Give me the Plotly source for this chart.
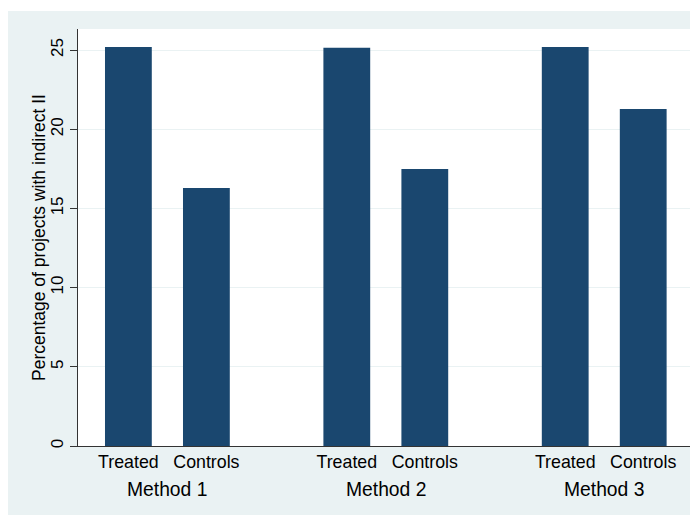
import plotly.graph_objects as go

# ---- data ----
methods = ["Method 1", "Method 2", "Method 3"]
groups = ["Treated", "Controls"]
treated = [25.19, 25.14, 25.19]
controls = [16.29, 17.49, 21.28]
y_ticks = [0, 5, 10, 15, 20, 25]

# ---- layout constants (page body has an 8px margin) ----
OFF = 8
W, H = 698 - OFF, 515 - OFF
PLOT_L, PLOT_R, PLOT_T, PLOT_B = 78, 694, 29, 446  # screen px
L, R, T, B = PLOT_L - OFF, 698 - PLOT_R, PLOT_T - OFF, 515 - PLOT_B
PW, PH = PLOT_R - PLOT_L, PLOT_B - PLOT_T
BAR = "#1a476f"
BG = "#eaf2f3"
FONT = "Liberation Sans, Arial, sans-serif"
GROUP_STEP = 2.8  # distance between groups in units of within-group spacing

xs, ys, labels = [], [], []
for gi, m in enumerate(methods):
    vals = [treated[gi], controls[gi]]
    for k, g in enumerate(groups):
        xs.append(gi * GROUP_STEP + k)
        ys.append(vals[k])
        labels.append(g)

fig = go.Figure(go.Bar(x=xs, y=ys, width=0.6, marker=dict(color=BAR, line=dict(width=0)),
                       hoverinfo="skip"))

xr = [-0.646, 7.251]
ymax = 26.33


def px(xs_):
    return (xs_ - PLOT_L) / PW


def py(ys_):
    return (PLOT_B - ys_) / PH


annotations = []
for gi, m in enumerate(methods):
    annotations.append(dict(x=gi * GROUP_STEP + 0.5, xref="x", y=py(489), yref="paper",
                            text=m, showarrow=False, xanchor="center", yanchor="middle",
                            font=dict(family=FONT, size=19.3, color="#000")))
annotations.append(dict(x=px(38.5), xref="paper", y=0.5, yref="paper",
                        text="Percentage of projects with indirect II", textangle=-90,
                        showarrow=False, xanchor="center", yanchor="middle",
                        font=dict(family=FONT, size=17.5, color="#000")))

shapes = [
    dict(type="rect", xref="paper", yref="paper", x0=px(0), x1=px(700), y0=py(11), y1=py(0),
         fillcolor="white", line=dict(width=0), layer="above"),
]

fig.update_layout(
    width=W, height=H,
    margin=dict(l=L, r=R, t=T, b=B, pad=0),
    paper_bgcolor=BG, plot_bgcolor="white",
    showlegend=False,
    font=dict(family=FONT, size=17, color="#000"),
    annotations=annotations, shapes=shapes,
    xaxis=dict(range=xr, tickvals=xs, ticktext=labels, ticks="", showline=True,
               linecolor="#333", linewidth=1, showgrid=False, zeroline=False,
               tickfont=dict(family=FONT, size=17.8, color="#000"), fixedrange=True),
    yaxis=dict(range=[0, ymax], tickvals=y_ticks, ticks="outside", ticklen=7, tickwidth=1,
               tickcolor="#333", tickangle=-90, showline=True, linecolor="#333", linewidth=1,
               showgrid=True, gridcolor=BG, gridwidth=1, zeroline=False,
               tickfont=dict(family=FONT, size=17, color="#000"), fixedrange=True),
)

fig.write_html("out.html")
